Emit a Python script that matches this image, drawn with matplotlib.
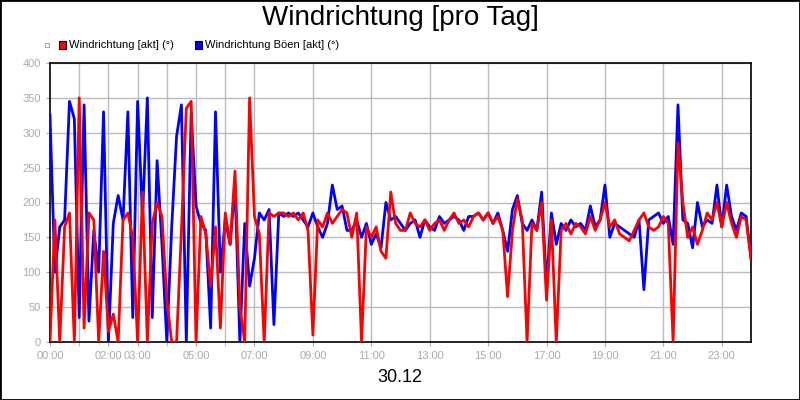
import numpy as np
import matplotlib
matplotlib.use("Agg")
import matplotlib.pyplot as plt
from matplotlib.patches import Rectangle

plt.rcParams['font.family'] = ['Liberation Sans', 'DejaVu Sans']

title = "Windrichtung [pro Tag]"
xlabel = "30.12"
series_names = ["Windrichtung [akt] (°)", "Windrichtung Böen [akt] (°)"]
tick_hours = [0, 2, 3, 5, 7, 9, 11, 13, 15, 17, 19, 21, 23]
tick_labels = ["00:00", "02:00", "03:00", "05:00", "07:00", "09:00", "11:00",
               "13:00", "15:00", "17:00", "19:00", "21:00", "23:00"]
grid_hours = [1, 2, 3, 4, 5, 6, 7, 9, 11, 13, 15, 17, 19, 21, 23]

red = [0,175,0,165,185,0,
       350,20,185,175,0,130,
       15,40,0,175,185,150,
       0,215,0,170,200,180,
       60,0,0,160,335,345,
       0,180,155,80,165,20,
       185,140,245,50,0,350,
       180,155,0,185,180,185,
       185,180,185,175,185,160,
       10,175,165,185,170,180,
       190,185,150,185,0,165,
       150,165,130,120,215,170,
       160,160,185,170,165,175,
       160,170,175,160,175,185,
       170,175,165,180,185,175,
       185,170,180,160,65,160,
       205,175,0,170,160,200,
       60,175,0,160,170,155,
       170,165,155,180,160,175,
       200,165,175,155,150,145,
       160,175,185,165,160,165,
       180,170,0,285,200,150,
       165,140,160,185,175,200,
       165,200,170,150,180,175,
       120]
blue = [325,100,165,175,345,320,
        35,340,30,160,100,330,
        0,170,210,175,330,35,
        345,180,350,35,260,140,
        0,165,295,340,0,330,
        195,170,160,20,330,100,
        175,140,225,0,170,80,
        120,185,175,190,25,185,
        180,185,180,185,175,165,
        185,165,150,170,225,190,
        195,160,160,175,150,170,
        140,155,135,200,175,180,
        170,160,170,175,150,175,
        165,160,180,170,175,180,
        175,160,180,180,185,175,
        185,170,185,160,130,190,
        210,170,160,175,160,215,
        80,185,140,170,160,175,
        165,170,160,195,165,175,
        225,150,170,165,160,155,
        150,175,75,175,180,185,
        170,180,140,340,175,170,
        135,200,165,175,170,225,
        165,225,180,160,185,180,
        120]
hours = np.arange(len(red)) / 6.0

fig = plt.figure(figsize=(8, 4), dpi=100)
fig.patches.append(Rectangle((0, 0), 1, 1, transform=fig.transFigure, fill=False,
                             edgecolor="black", linewidth=2))
ax = fig.add_axes([50/800, 58/400, 701/800, 279/400])
ax.plot(hours, blue, color="#0000ff", lw=2, zorder=3)
ax.plot(hours, red, color="#ff0000", lw=2, zorder=4)
ax.set_xlim(0, 24)
ax.set_ylim(0, 400)
ax.set_yticks(range(0, 401, 50))
ax.set_xticks(tick_hours)
ax.set_xticklabels(tick_labels)
ax.set_xticks(grid_hours, minor=True)
ax.grid(False)
for g in grid_hours:
    ax.axvline(g, color="#bbbbbb", lw=1, zorder=1)
for v in range(50, 401, 50):
    ax.axhline(v, color="#bbbbbb", lw=1, zorder=1)
ax.tick_params(axis="both", which="both", colors="#aaaaaa", labelsize=8, length=3)
for s in ax.spines.values():
    s.set_color("black")
    s.set_linewidth(1.2)

fig.text(0.5, 1 - 18/400, title, ha="center", va="center", fontsize=20)
fig.text(400/800, 1 - 378/400, xlabel, ha="center", va="center", fontsize=13)

# legend
fig.patches.append(Rectangle((45/800, 1-47/400), 4/800, 4/400, transform=fig.transFigure,
                             fill=False, edgecolor="#aaaaaa", lw=0.8))
fig.patches.append(Rectangle((59/800, 1-49/400), 7/800, 8/400, transform=fig.transFigure,
                             facecolor="#ff0000", edgecolor="black", lw=0.8))
fig.text(69/800, 1-44.5/400, series_names[0], fontsize=8, va="center")
fig.patches.append(Rectangle((195/800, 1-49/400), 7/800, 8/400, transform=fig.transFigure,
                             facecolor="#0000ff", edgecolor="black", lw=0.8))
fig.text(205/800, 1-44.5/400, series_names[1], fontsize=8, va="center")

fig.savefig("out.png", dpi=100)
